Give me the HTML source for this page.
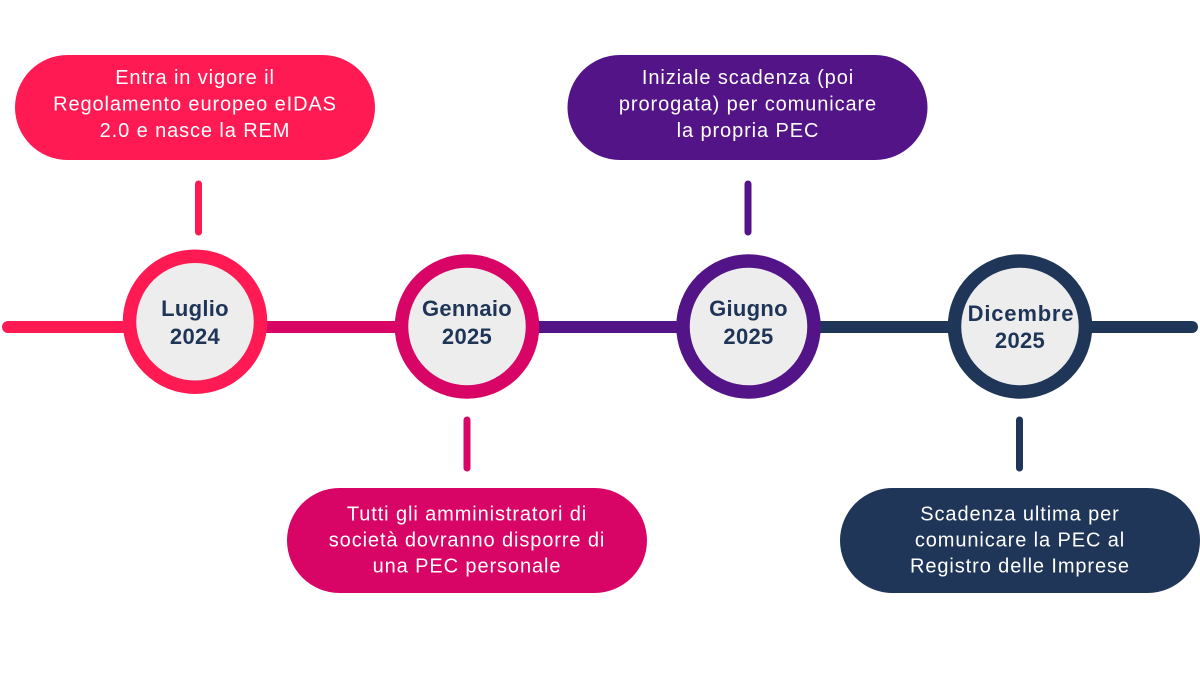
<!DOCTYPE html>
<html>
<head>
<meta charset="utf-8">
<style>
  html, body { margin: 0; padding: 0; background: #ffffff; }
  svg { display: block; }
  .box { font-family: "Liberation Sans", sans-serif; font-size: 20px; fill: #ffffff; letter-spacing: 0.9px; }
  .lab { font-family: "Liberation Sans", sans-serif; font-size: 22px; font-weight: bold; fill: #1F3558; letter-spacing: 0.3px; }
</style>
</head>
<body>
<svg width="1200" height="675" viewBox="0 0 1200 675" xmlns="http://www.w3.org/2000/svg">
  <rect width="1200" height="675" fill="#ffffff"/>

  <!-- timeline segments -->
  <line x1="8" y1="327" x2="195" y2="327" stroke="#FF1A53" stroke-width="12" stroke-linecap="round"/>
  <line x1="195" y1="327" x2="467" y2="327" stroke="#D80566" stroke-width="12"/>
  <line x1="467" y1="327" x2="748" y2="327" stroke="#531487" stroke-width="12"/>
  <line x1="748" y1="327" x2="1192" y2="327" stroke="#1F3658" stroke-width="12" stroke-linecap="round"/>

  <!-- connectors -->
  <line x1="198.5" y1="184" x2="198.5" y2="232" stroke="#FF1A53" stroke-width="7" stroke-linecap="round"/>
  <line x1="748" y1="184" x2="748" y2="232" stroke="#531487" stroke-width="7" stroke-linecap="round"/>
  <line x1="467" y1="420" x2="467" y2="468" stroke="#D80566" stroke-width="7" stroke-linecap="round"/>
  <line x1="1019.5" y1="420" x2="1019.5" y2="468" stroke="#1F3658" stroke-width="7" stroke-linecap="round"/>

  <!-- circles -->
  <circle cx="195" cy="321.7" r="65.5" fill="#EDEDED" stroke="#FF1A53" stroke-width="13.5"/>
  <circle cx="467" cy="326.5" r="65.5" fill="#EDEDED" stroke="#D80566" stroke-width="13.5"/>
  <circle cx="748.5" cy="326.5" r="65.5" fill="#EDEDED" stroke="#531487" stroke-width="13.5"/>
  <circle cx="1020" cy="326.5" r="65.5" fill="#EDEDED" stroke="#1F3658" stroke-width="13.5"/>

  <!-- circle labels -->
  <text class="lab" x="195" y="316" text-anchor="middle">Luglio</text>
  <text class="lab" x="195" y="344" text-anchor="middle">2024</text>
  <text class="lab" x="467" y="316" text-anchor="middle">Gennaio</text>
  <text class="lab" x="467" y="344" text-anchor="middle">2025</text>
  <text class="lab" x="748.5" y="316" text-anchor="middle">Giugno</text>
  <text class="lab" x="748.5" y="344" text-anchor="middle">2025</text>
  <text class="lab" x="1021" y="321" text-anchor="middle" style="letter-spacing:0.8px">Dicembre</text>
  <text class="lab" x="1020" y="348" text-anchor="middle">2025</text>

  <!-- boxes -->
  <rect x="15" y="55" width="360" height="105" rx="52.5" ry="52.5" fill="#FF1A53"/>
  <rect x="567.5" y="55" width="360" height="105" rx="52.5" ry="52.5" fill="#531487"/>
  <rect x="287" y="488" width="360" height="105" rx="52.5" ry="52.5" fill="#D80566"/>
  <rect x="840" y="488" width="360" height="105" rx="52.5" ry="52.5" fill="#1F3658"/>

  <!-- box texts -->
  <text class="box" x="195" y="84" text-anchor="middle">Entra in vigore il</text>
  <text class="box" x="195" y="110.5" text-anchor="middle">Regolamento europeo eIDAS</text>
  <text class="box" x="195" y="137" text-anchor="middle">2.0 e nasce la REM</text>

  <text class="box" x="748" y="84" text-anchor="middle">Iniziale scadenza (poi</text>
  <text class="box" x="748" y="110.5" text-anchor="middle">prorogata) per comunicare</text>
  <text class="box" x="748" y="137" text-anchor="middle">la propria PEC</text>

  <text class="box" x="467" y="520.5" text-anchor="middle">Tutti gli amministratori di</text>
  <text class="box" x="467" y="546.5" text-anchor="middle">società dovranno disporre di</text>
  <text class="box" x="467" y="572.5" text-anchor="middle">una PEC personale</text>

  <text class="box" x="1020" y="520.5" text-anchor="middle">Scadenza ultima per</text>
  <text class="box" x="1020" y="546.5" text-anchor="middle">comunicare la PEC al</text>
  <text class="box" x="1020" y="572.5" text-anchor="middle">Registro delle Imprese</text>
</svg>
</body>
</html>
